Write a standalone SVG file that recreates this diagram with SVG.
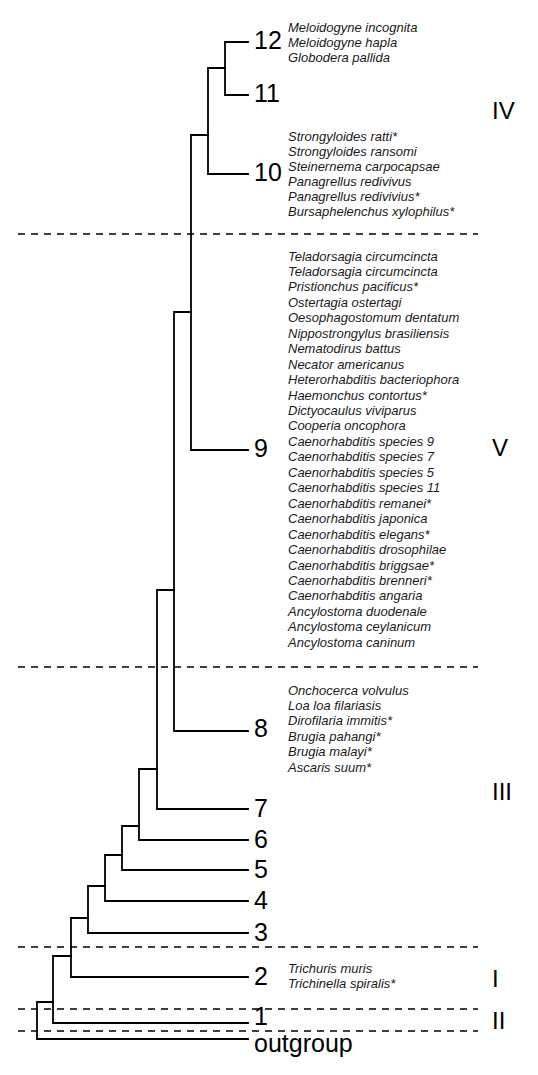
<svg xmlns="http://www.w3.org/2000/svg" width="538" height="1075" viewBox="0 0 538 1075">
<style>
.tree{fill:none;stroke:#000;stroke-width:1.8;stroke-linecap:square}
.dash{fill:none;stroke:#000;stroke-width:1.5;stroke-dasharray:7 6}
.num{font-family:"Liberation Sans",Arial,sans-serif;font-size:25px;fill:#000}
.sp{font-family:"Liberation Sans",Arial,sans-serif;font-size:13px;font-style:italic;fill:#1a1a1a}
.rom{font-family:"Liberation Sans",Arial,sans-serif;font-size:24px;fill:#000}
</style>
<rect width="538" height="1075" fill="#fff"/>
<g id="dividers">
<path class="dash" d="M18 234H478M18 667H478M18 947H478M18 1009H478M18 1031H478"/>
</g>
<g id="connectors">
<path class="tree" d="M37 1002V1039H248M37 1002H53"/>
<path class="tree" d="M53 956V1023H248M53 956H71"/>
<path class="tree" d="M71 918V977H248M71 918H88"/>
<path class="tree" d="M88 886V933H248M88 886H105"/>
<path class="tree" d="M105 855V901H248M105 855H122"/>
<path class="tree" d="M122 826V870H248M122 826H139"/>
<path class="tree" d="M139 769V840H248M139 769H157"/>
<path class="tree" d="M157 590V809H248M157 590H174"/>
<path class="tree" d="M174 312V731H248M174 312H191"/>
<path class="tree" d="M191 135V450H248M191 135H208"/>
<path class="tree" d="M208 68V174H248M208 68H225"/>
<path class="tree" d="M225 42V95H248M225 42H248"/>
</g>
<g id="clade-12">
<text class="num" x="254" y="49">12</text>
<text class="sp"><tspan x="288" y="31.5">Meloidogyne incognita</tspan><tspan x="288" y="46.5">Meloidogyne hapla</tspan><tspan x="288" y="61.5">Globodera pallida</tspan></text>
</g>
<g id="clade-11"><text class="num" x="254" y="102">11</text></g>
<g id="clade-10">
<text class="num" x="254" y="181">10</text>
<text class="sp"><tspan x="288" y="141">Strongyloides ratti*</tspan><tspan x="288" y="156">Strongyloides ransomi</tspan><tspan x="288" y="171">Steinernema carpocapsae</tspan><tspan x="288" y="186">Panagrellus redivivus</tspan><tspan x="288" y="201">Panagrellus redivivius*</tspan><tspan x="288" y="216">Bursaphelenchus xylophilus*</tspan></text>
</g>
<g id="clade-9">
<text class="num" x="254" y="457">9</text>
<text class="sp"><tspan x="288" y="260.5">Teladorsagia circumcincta</tspan><tspan x="288" y="275.95">Teladorsagia circumcincta</tspan><tspan x="288" y="291.4">Pristionchus pacificus*</tspan><tspan x="288" y="306.85">Ostertagia ostertagi</tspan><tspan x="288" y="322.3">Oesophagostomum dentatum</tspan><tspan x="288" y="337.75">Nippostrongylus brasiliensis</tspan><tspan x="288" y="353.2">Nematodirus battus</tspan><tspan x="288" y="368.65">Necator americanus</tspan><tspan x="288" y="384.1">Heterorhabditis bacteriophora</tspan><tspan x="288" y="399.55">Haemonchus contortus*</tspan><tspan x="288" y="415">Dictyocaulus viviparus</tspan><tspan x="288" y="430.45">Cooperia oncophora</tspan><tspan x="288" y="445.9">Caenorhabditis species 9</tspan><tspan x="288" y="461.35">Caenorhabditis species 7</tspan><tspan x="288" y="476.8">Caenorhabditis species 5</tspan><tspan x="288" y="492.25">Caenorhabditis species 11</tspan><tspan x="288" y="507.7">Caenorhabditis remanei*</tspan><tspan x="288" y="523.15">Caenorhabditis japonica</tspan><tspan x="288" y="538.6">Caenorhabditis elegans*</tspan><tspan x="288" y="554.05">Caenorhabditis drosophilae</tspan><tspan x="288" y="569.5">Caenorhabditis briggsae*</tspan><tspan x="288" y="584.95">Caenorhabditis brenneri*</tspan><tspan x="288" y="600.4">Caenorhabditis angaria</tspan><tspan x="288" y="615.85">Ancylostoma duodenale</tspan><tspan x="288" y="631.3">Ancylostoma ceylanicum</tspan><tspan x="288" y="646.75">Ancylostoma caninum</tspan></text>
</g>
<g id="clade-8">
<text class="num" x="254" y="737">8</text>
<text class="sp"><tspan x="288" y="694.5">Onchocerca volvulus</tspan><tspan x="288" y="709.95">Loa loa filariasis</tspan><tspan x="288" y="725.4">Dirofilaria immitis*</tspan><tspan x="288" y="740.85">Brugia pahangi*</tspan><tspan x="288" y="756.3">Brugia malayi*</tspan><tspan x="288" y="771.75">Ascaris suum*</tspan></text>
</g>
<g id="clade-7"><text class="num" x="254" y="817">7</text></g>
<g id="clade-6"><text class="num" x="254" y="848">6</text></g>
<g id="clade-5"><text class="num" x="254" y="878">5</text></g>
<g id="clade-4"><text class="num" x="254" y="909">4</text></g>
<g id="clade-3"><text class="num" x="254" y="941">3</text></g>
<g id="clade-2">
<text class="num" x="254" y="985">2</text>
<text class="sp"><tspan x="288" y="972.5">Trichuris muris</tspan><tspan x="288" y="987.5">Trichinella spiralis*</tspan></text>
</g>
<g id="clade-1"><text class="num" x="254" y="1025">1</text></g>
<g id="outgroup"><text class="num" x="254" y="1052">outgroup</text></g>
<g id="group-IV"><text class="rom" x="492" y="119">IV</text></g>
<g id="group-V"><text class="rom" x="492" y="456">V</text></g>
<g id="group-III"><text class="rom" x="492" y="800">III</text></g>
<g id="group-I"><text class="rom" x="492" y="987">I</text></g>
<g id="group-II"><text class="rom" x="492" y="1029">II</text></g>
</svg>
